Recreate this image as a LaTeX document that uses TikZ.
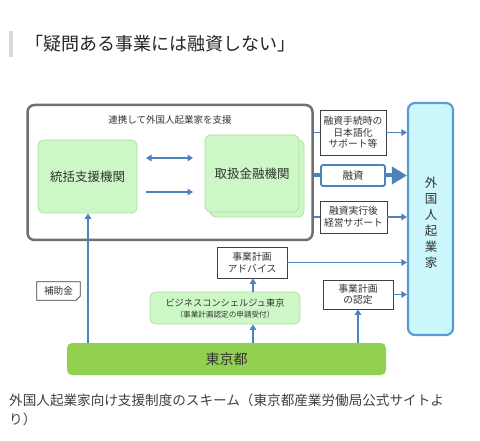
\documentclass[tikz,border=0pt]{standalone}
\usepackage{fontspec}
\setmainfont{Noto Sans CJK JP}
\usetikzlibrary{arrows.meta}
\definecolor{arrowblue}{HTML}{4F81BD}
\definecolor{greenfill}{HTML}{CDF7C6}
\definecolor{greenedge}{HTML}{ABE39E}
\definecolor{tokyofill}{HTML}{92D050}
\definecolor{cyanfill}{HTML}{CCF7FC}
\definecolor{cyanedge}{HTML}{5B9BD5}
\definecolor{framegray}{HTML}{707070}
\definecolor{txt}{HTML}{333333}
\tikzset{
  arr/.style={draw=arrowblue, line width=1.8pt, -{Triangle[length=5.5pt,width=6.5pt]}},
  darr/.style={draw=arrowblue, line width=1.8pt, {Triangle[length=5.5pt,width=6.5pt]}-{Triangle[length=5.5pt,width=6.5pt]}},
  link/.style={draw=arrowblue, line width=1.5pt},
  greenbox/.style={draw=greenedge, fill=greenfill, rounded corners=6pt, line width=0.8pt, inner sep=0pt},
  whitebox/.style={draw=black!75, fill=white, line width=0.8pt, inner sep=0pt, align=center, font=\fontsize{9.8}{11.5}\selectfont, text=txt},
  lbl/.style={text=txt, inner sep=0pt}
}
\begin{document}
\begin{tikzpicture}[x=1pt,y=-1pt]
\path[use as bounding box, fill=white] (0,0) rectangle (480,441);
% title
\fill[black!15] (9,31) rectangle (13,57);
\node[lbl, anchor=west, font=\fontsize{18}{20}\selectfont, text=black!85] (title) at (25,44) {「疑問ある事業には融資しない」};
% big frame
\node[draw=framegray, line width=2.5pt, rounded corners=7pt, minimum width=285pt, minimum height=135pt, inner sep=0pt] (frame) at (170,172.5) {};
\node[lbl, font=\fontsize{9.5}{11}\selectfont] (frametitle) at (170,120) {連携して外国人起業家を支援};
% inner boxes
\node[greenbox, minimum width=99pt, minimum height=73pt, font=\fontsize{12.5}{14}\selectfont, text=txt] (touk) at (87.5,176.5) {統括支援機関};
\node[greenbox, minimum width=94pt, minimum height=77pt] (toriback) at (257,178.5) {};
\node[greenbox, minimum width=94pt, minimum height=77pt, font=\fontsize{12.5}{14}\selectfont, text=txt] (tori) at (252,173.5) {取扱金融機関};
\coordinate (a1s) at (146,158);
\coordinate (a1e) at (193,158);
\coordinate (a2s) at (146,192);
\coordinate (a2e) at (193,192);
\draw[darr] (a1s) -- (a1e);
\draw[arr] (a2s) -- (a2e);
% foreign entrepreneur box
\node[draw=cyanedge, fill=cyanfill, line width=2.2pt, rounded corners=7pt, minimum width=45pt, minimum height=232pt, inner sep=0pt] (gai) at (430.5,219) {};
\node[lbl, align=center, font=\fontsize{12.5}{16}\selectfont] (gaitext) at (431,223) {外\\国\\人\\起\\業\\家};
% right boxes
\node[whitebox, minimum width=66pt, minimum height=45pt] (nihongo) at (353,132.5) {融資手続時の\\日本語化\\サポート等};
\node[draw=arrowblue, fill=white, line width=1.8pt, rounded corners=2pt, minimum width=64pt, minimum height=21pt, inner sep=0pt, font=\fontsize{10.5}{12}\selectfont, text=txt] (yushi) at (353,175.5) {融資};
\node[whitebox, minimum width=67pt, minimum height=32pt] (keiei) at (353.5,217) {融資実行後\\経営サポート};
% connectors frame -> right boxes -> gai
\draw[link] (frame.east |- nihongo.west) -- (nihongo.west);
\draw[arr] (nihongo.east) -- (gai.west |- nihongo.east);
\draw[draw=arrowblue, line width=4pt] (frame.east |- yushi.west) -- (yushi.west);
\draw[draw=arrowblue, line width=4pt, -{Triangle[length=15pt,width=17pt]}] (yushi.east) -- (gai.west |- yushi.east);
\draw[link] (frame.east |- keiei.west) -- (keiei.west);
\draw[arr] (keiei.east) -- (gai.west |- keiei.east);
% lower part
\node[draw=none, fill=tokyofill, rounded corners=5pt, minimum width=319pt, minimum height=32pt, inner sep=0pt, font=\fontsize{14}{16}\selectfont, text=txt] (tokyo) at (226.5,359) {東京都};
\node[whitebox, minimum width=70pt, minimum height=31pt] (advice) at (252,262.5) {事業計画\\アドバイス};
\node[greenbox, minimum width=150pt, minimum height=32pt, align=center, text=txt] (bc) at (225,308) {{\fontsize{9.2}{11}\selectfont ビジネスコンシェルジュ東京}\\[-1pt]{\fontsize{7.6}{9}\selectfont （事業計画認定の申請受付）}};
\node[whitebox, minimum width=70pt, minimum height=29pt] (nintei) at (358,294.5) {事業計画\\の認定};
\node[lbl, minimum width=43pt, minimum height=18pt, font=\fontsize{9.6}{11}\selectfont] (hojo) at (58.5,291) {};
\draw[black!75, line width=0.8pt, fill=white] (hojo.north west) -- (hojo.north east) -- ([yshift=4pt]hojo.south east) -- ([xshift=-4pt]hojo.south east) -- (hojo.south west) -- cycle;
\node[lbl, font=\fontsize{9.6}{11}\selectfont] (hojotext) at (hojo) {補助金};
\coordinate (tk1) at (tokyo.north -| 88,0);
\draw[arr] (tk1) -- (touk.south -| tk1);
\coordinate (tk2) at (tokyo.north -| 253,0);
\draw[arr] (tk2) -- (bc.south -| tk2);
\draw[arr] (bc.north -| tk2) -- (advice.south -| tk2);
\draw[arr] (nintei.south |- tokyo.north) -- (nintei.south);
\draw[arr] (advice.east) -- (gai.west |- advice.east);
\draw[arr] (nintei.east) -- (gai.west |- nintei.east);
% caption
\node[lbl, anchor=north west, align=left, text=black!75, font=\fontsize{13.6}{19}\selectfont] (caption) at (9,394) {外国人起業家向け支援制度のスキーム（東京都産業労働局公式サイトよ\\り）};
\end{tikzpicture}
\end{document}
